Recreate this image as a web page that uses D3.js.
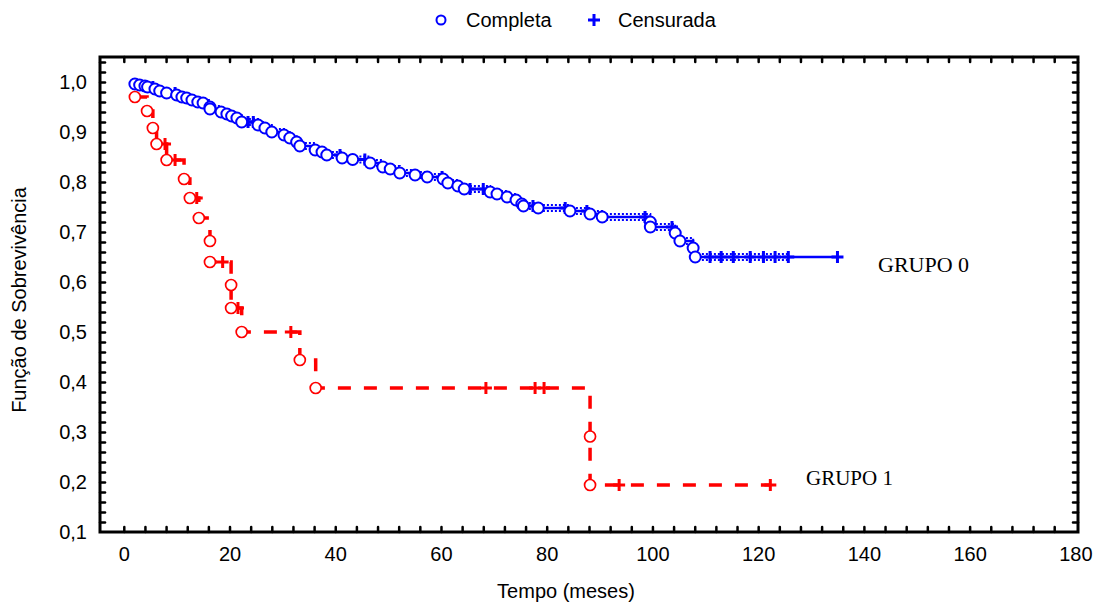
<!DOCTYPE html>
<html>
<head>
<meta charset="utf-8">
<script src="https://cdn.jsdelivr.net/npm/d3@7"></script>
<style>
  body { margin: 0; background: #fff; }
</style>
</head>
<body>
<svg id="chart" width="1093" height="602"></svg>
<script>
// Kaplan-Meier survival estimates, two groups
// GRUPO 0: event times (months) and survival after each event
const g0EventTimes = [2.1, 3.0, 4.0, 4.5, 5.9, 6.8, 8.1, 10.0, 11.0, 11.9, 12.9, 14.0, 15.0, 16.3, 16.3,
  18.4, 19.5, 20.4, 21.4, 22.3, 25.4, 26.7, 28.0, 30.3, 31.4, 32.7, 33.3, 36.2, 37.5, 38.4,
  41.3, 43.3, 46.6, 49.0, 50.4, 52.2, 55.1, 57.4, 60.4, 61.3, 63.2, 64.4, 69.3, 70.6, 72.5,
  74.2, 75.3, 75.6, 78.4, 84.4, 88.2, 90.5, 99.6, 99.6, 104.3, 105.2, 107.7, 108.1];
const g0Survival = [0.996, 0.994, 0.992, 0.990, 0.986, 0.982, 0.978, 0.974, 0.970, 0.968, 0.964, 0.960, 0.958, 0.950, 0.946,
  0.940, 0.936, 0.932, 0.928, 0.920, 0.914, 0.908, 0.900, 0.894, 0.888, 0.880, 0.872, 0.864, 0.860, 0.854,
  0.848, 0.845, 0.838, 0.830, 0.826, 0.818, 0.814, 0.810, 0.806, 0.798, 0.792, 0.786, 0.780, 0.776, 0.770,
  0.764, 0.756, 0.752, 0.748, 0.742, 0.736, 0.730, 0.720, 0.710, 0.698, 0.682, 0.668, 0.650];
// GRUPO 0: censoring times (months)
const g0Censored = [5.5, 9.7, 23.5, 24.5, 40.9, 45.6, 60.2, 65.5, 68.0, 77.4, 83.5, 87.6, 98.6, 103.7,
  110.9, 113.0, 115.3, 118.5, 121.0, 123.2, 125.7, 135.0];

// GRUPO 1: event times and survival
const g1EventTimes = [2.1, 4.4, 5.5, 6.2, 8.1, 11.4, 12.5, 14.2, 16.3, 16.3, 20.3, 20.3, 22.3, 33.3, 36.3, 88.2, 88.2];
const g1Survival = [0.970, 0.942, 0.908, 0.876, 0.844, 0.806, 0.768, 0.728, 0.682, 0.640, 0.594, 0.548, 0.500, 0.444, 0.388, 0.291, 0.194];
// GRUPO 1: censoring times
const g1Censored = [7.8, 9.7, 13.8, 18.7, 21.6, 31.6, 68.5, 77.8, 79.5, 93.7, 122.3];

const xMajorTicks = [0, 20, 40, 60, 80, 100, 120, 140, 160, 180];
const yMajorTicks = [0.1, 0.2, 0.3, 0.4, 0.5, 0.6, 0.7, 0.8, 0.9, 1.0];
const groupLabels = ["GRUPO 0", "GRUPO 1"];
const legendLabels = ["Completa", "Censurada"];

const BLUE = "#0000ff", RED = "#ff0000";
const SANS = "'Liberation Sans', Arial, sans-serif";
const SERIF = "'Liberation Serif', 'Times New Roman', serif";
const svg = d3.select("#chart");
const plotLeft = 100, plotRight = 1078, plotTop = 57, plotBottom = 532;

const x = d3.scaleLinear().domain([-4.5, 180.5]).range([plotLeft, plotRight]);
const y = d3.scaleLinear().domain([0.1, 1.05]).range([plotBottom, plotTop]);

const ptLocale = d3.formatLocale({ decimal: ",", thousands: ".", grouping: [3], currency: ["", ""] });
const fmtY = ptLocale.format(".1f");

// inward minor ticks on all four sides
const xMinor = d3.range(0, 180, 4);
const yMinor = d3.range(6, 53).map(i => i * 0.02);
function tickAxis(axis, vals) {
  return axis.tickValues(vals).tickSizeInner(-5).tickSizeOuter(0).tickFormat("");
}
const tickGroups = [
  svg.append("g").attr("transform", `translate(0,${plotBottom})`).call(tickAxis(d3.axisBottom(x), xMinor)),
  svg.append("g").attr("transform", `translate(0,${plotTop})`).call(tickAxis(d3.axisTop(x), xMinor)),
  svg.append("g").attr("transform", `translate(${plotLeft},0)`).call(tickAxis(d3.axisLeft(y), yMinor)),
  svg.append("g").attr("transform", `translate(${plotRight},0)`).call(tickAxis(d3.axisRight(y), yMinor))
];
tickGroups.forEach(g => {
  g.select(".domain").remove();
  g.selectAll("line").attr("stroke", "#000").attr("stroke-width", 2.5).attr("stroke-linecap", "round");
});

// tick labels
const xLab = svg.append("g").attr("transform", `translate(0,${plotBottom})`)
  .call(d3.axisBottom(x).tickValues(xMajorTicks).tickSize(0).tickPadding(15).tickFormat(d3.format("d")));
xLab.select(".domain").remove();
xLab.selectAll("text").attr("fill", "#000").style("font-size", "20px").style("font-family", SANS);

const yLab = svg.append("g").attr("transform", `translate(${plotLeft},0)`)
  .call(d3.axisLeft(y).tickValues(yMajorTicks).tickSize(0).tickPadding(13).tickFormat(fmtY));
yLab.select(".domain").remove();
yLab.selectAll("text").attr("fill", "#000").style("font-size", "20px").style("font-family", SANS);

// frame
svg.append("rect").attr("x", plotLeft).attr("y", plotTop)
  .attr("width", plotRight - plotLeft).attr("height", plotBottom - plotTop)
  .attr("fill", "none").attr("stroke", "#000").attr("stroke-width", 3);

// axis titles
svg.append("text").attr("x", 566).attr("y", 598).attr("text-anchor", "middle")
  .style("font-size", "20px").style("font-family", SANS).text("Tempo (meses)");
svg.append("text").attr("transform", "translate(26,300) rotate(-90)").attr("text-anchor", "middle")
  .style("font-size", "20px").style("font-family", SANS).text("Função de Sobrevivência");

// step-function value at a censoring time
function survivalAt(times, surv, t) {
  let s = 1;
  for (let i = 0; i < times.length; i++) if (times[i] <= t) s = surv[i];
  return s;
}
function stepPoints(times, surv, censored, tEnd) {
  const pts = times.map((t, i) => [t, surv[i]]);
  const end = tEnd !== undefined ? tEnd : d3.max(censored);
  pts.push([end, survivalAt(times, surv, end)]);
  return pts;
}
const stepLine = d3.line().x(d => x(d[0])).y(d => y(d[1])).curve(d3.curveStepAfter);

// GRUPO 0 curve: solid line with dotted companions
const g0Pts = stepPoints(g0EventTimes, g0Survival, g0Censored);
const g0Dotted = stepPoints(g0EventTimes, g0Survival, g0Censored, 125.7);
[-3, 3].forEach(off => {
  svg.append("path").attr("d", stepLine(g0Dotted)).attr("transform", `translate(0,${off})`)
    .attr("fill", "none").attr("stroke", BLUE).attr("stroke-width", 2).attr("stroke-dasharray", "2,2");
});
svg.append("path").attr("d", stepLine(g0Pts)).attr("fill", "none")
  .attr("stroke", BLUE).attr("stroke-width", 2.5);

// GRUPO 1 curve: dashed line
const g1Pts = stepPoints(g1EventTimes, g1Survival, g1Censored);
svg.append("path").attr("d", stepLine(g1Pts)).attr("fill", "none")
  .attr("stroke", RED).attr("stroke-width", 3.5).attr("stroke-dasharray", "13,13");

function plusPath(cx, cy, h) {
  return `M${cx - h},${cy}H${cx + h}M${cx},${cy - h}V${cy + h}`;
}

function drawMarkers(times, surv, censored, color, r, sw) {
  svg.append("g").selectAll("path").data(censored).join("path")
    .attr("d", t => plusPath(x(t), y(survivalAt(times, surv, t)), 6))
    .attr("stroke", color).attr("stroke-width", 3).attr("fill", "none");
  svg.append("g").selectAll("circle").data(times.map((t, i) => [t, surv[i]])).join("circle")
    .attr("cx", d => x(d[0])).attr("cy", d => y(d[1])).attr("r", r)
    .attr("fill", "#fff").attr("stroke", color).attr("stroke-width", sw);
}
drawMarkers(g0EventTimes, g0Survival, g0Censored, BLUE, 5.5, 2);
drawMarkers(g1EventTimes, g1Survival, g1Censored, RED, 5.5, 1.7);

// group labels
svg.append("text").attr("x", 878).attr("y", 272)
  .style("font-size", "22px").style("font-family", SERIF).text(groupLabels[0]);
svg.append("text").attr("x", 806).attr("y", 485)
  .style("font-size", "21px").style("font-family", SERIF).text(groupLabels[1]);

// legend
svg.append("circle").attr("cx", 441).attr("cy", 20).attr("r", 4.5)
  .attr("fill", "none").attr("stroke", BLUE).attr("stroke-width", 2);
svg.append("text").attr("x", 466).attr("y", 27)
  .style("font-size", "20px").style("font-family", SANS).text(legendLabels[0]);
svg.append("path").attr("d", plusPath(594, 20, 6)).attr("stroke", BLUE).attr("stroke-width", 3);
svg.append("text").attr("x", 618).attr("y", 27)
  .style("font-size", "20px").style("font-family", SANS).text(legendLabels[1]);
</script>
</body>
</html>
